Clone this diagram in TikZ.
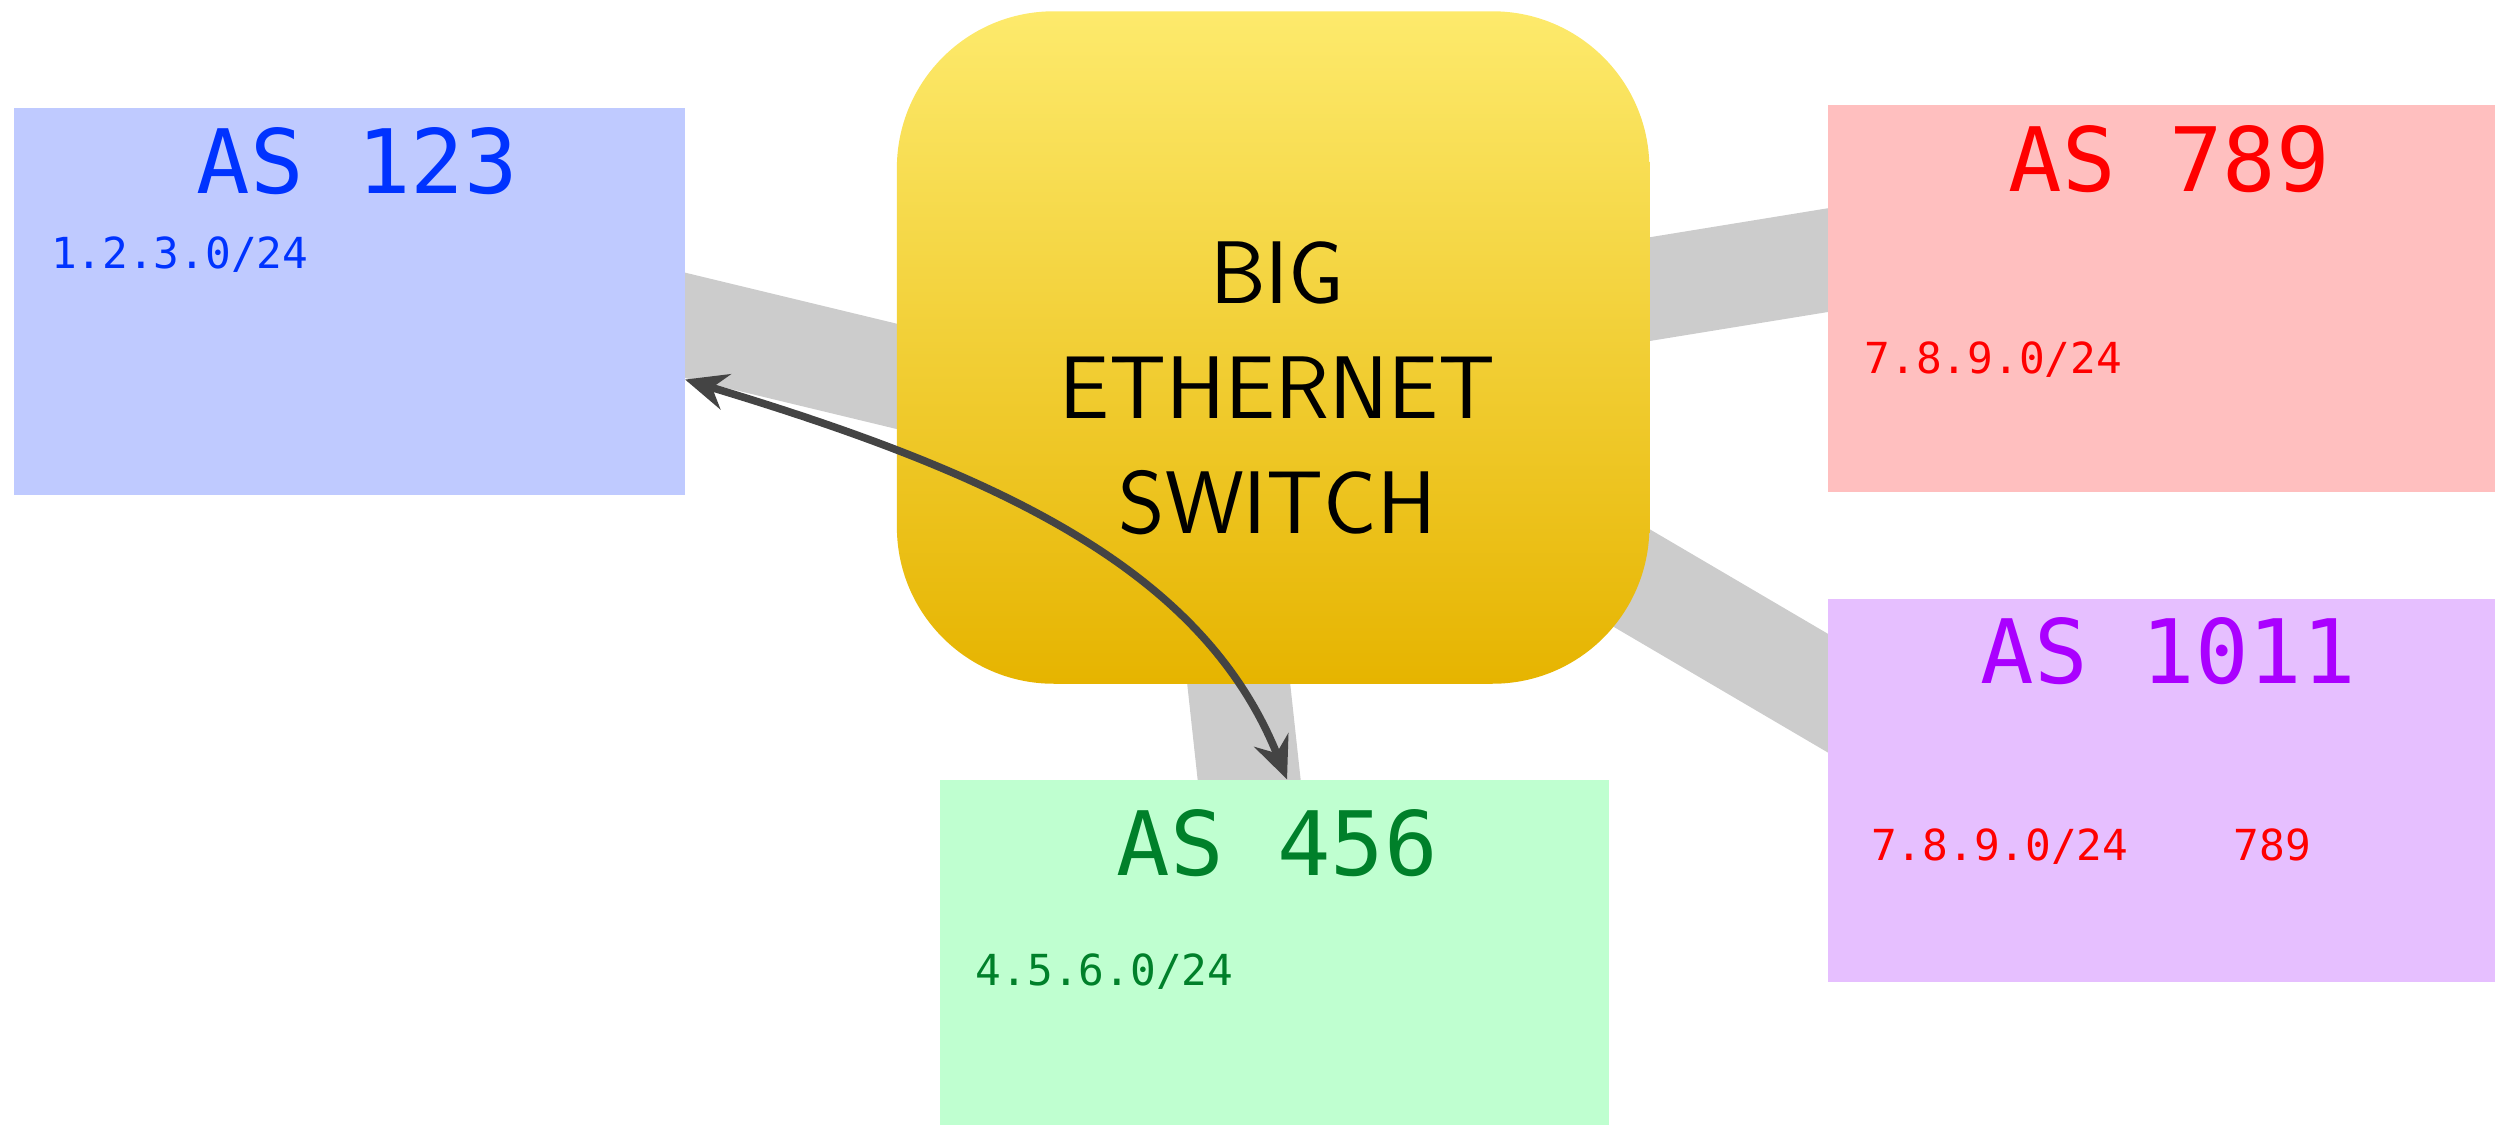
\documentclass[tikz,border=0pt]{standalone}
\usepackage{fontspec}
\usepackage{graphicx}
\usetikzlibrary{arrows.meta,backgrounds,calc}
\newfontfamily\monof{DejaVu Sans Mono}
\definecolor{fillA}{HTML}{BFCAFF}
\definecolor{fillB}{HTML}{BFFFD0}
\definecolor{fillC}{HTML}{FFBFBF}
\definecolor{fillD}{HTML}{E6BFFF}
\definecolor{txtA}{HTML}{0033FF}
\definecolor{txtB}{HTML}{00802A}
\definecolor{txtC}{HTML}{FF0000}
\definecolor{txtD}{HTML}{AA00FF}
\definecolor{swtop}{HTML}{FDEA6C}
\definecolor{swbot}{HTML}{E6B400}
\definecolor{bandgray}{HTML}{CCCCCC}
\definecolor{arrowgray}{HTML}{444444}
\begin{document}
\begin{tikzpicture}[x=0.02cm,y=-0.02cm,
  asbox/.style={draw=none,inner sep=0pt,rectangle},
  astitle/.style={inner sep=0pt,anchor=base,font=\monof\fontsize{31.6pt}{38pt}\selectfont},
  asprefix/.style={inner sep=0pt,anchor=base west,font=\monof\fontsize{15.2pt}{18pt}\selectfont},
  swbox/.style={draw=none,inner sep=0pt,rectangle,rounded corners=1.96cm,
    top color=swtop,bottom color=swbot,minimum width=9.4cm,minimum height=8.4cm},
  swtext/.style={inner sep=0pt,anchor=base,font=\sffamily\fontsize{31.6pt}{40pt}\selectfont},
  band/.style={draw=bandgray,line width=36.4pt},
  conn/.style={draw=arrowgray,line width=2.7pt,
    arrows={Stealth[length=15pt,width=13pt,inset=5pt]-Stealth[length=15pt,width=13pt,inset=5pt]}}
]
\useasboundingbox (0,0) rectangle (1568,702.5);

% boxes
\node[asbox,fill=fillA,minimum width=8.38cm,minimum height=4.836cm] (as123) at (218,188.1) {};
\node[asbox,fill=fillC,minimum width=8.33cm,minimum height=4.83cm] (as789) at (1349.75,186.25) {};
\node[asbox,fill=fillD,minimum width=8.33cm,minimum height=4.79cm] (as1011) at (1349.75,493.75) {};
\node[asbox,fill=fillB,minimum width=8.36cm,minimum height=4.84cm] (as456) at (796,608) {};
\node[swbox] (sw) at (795,217) {};

% switch text
\node[swtext] (sw1) at (797.7,189.5) {BIG};
\node[swtext] (sw2) at (797.7,261.4) {ETHERNET};
\node[swtext] (sw3) at (797.7,333.2) {SWITCH};

% titles
\node[astitle,text=txtA] (t123) at (223,121.1) {AS 123};
\node[astitle,text=txtC] (t789) at (1354.5,119.7) {AS 789};
\node[astitle,text=txtD] (t1011) at (1354,427) {AS 1011};
\node[astitle,text=txtB] (t456) at (797.5,546.8) {AS 456};

% prefixes
\node[asprefix,text=txtA] (p123) at (31.5,167.6) {1.2.3.0/24};
\node[asprefix,text=txtC] (p789) at (1164,233.5) {7.8.9.0/24};
\node[asprefix,text=txtC] (p1011) at (1168,537.5) {7.8.9.0/24};
\node[asprefix,text=txtC] (path1011) at (1394.5,537.5) {789};
\node[asprefix,text=txtB] (p456) at (609,615.5) {4.5.6.0/24};

% links
\begin{scope}[on background layer]
\draw[band] ($(as123.east)+(-27.5,8.4)$) -- ($(sw.west)+(40,27.6)$);
\draw[band] ($(sw.east)+(-30,-31.6)$) -- ($(as789.west)+(38.5,-30.05)$);
\draw[band] ($(sw.east)+(-50,121.3)$) -- ($(as1011.west)+(38.5,-38.45)$);
\draw[band] ($(sw.south)+(-24.4,-27)$) -- ($(as456.north)+(-12.4,33)$);
\end{scope}

% route arrow
\draw[conn] ($(as123.east)+(0,48.9)$) .. controls (627.4,297) and (751.7,357) .. ($(as456.north)+(7.7,0)$);
\end{tikzpicture}
\end{document}
